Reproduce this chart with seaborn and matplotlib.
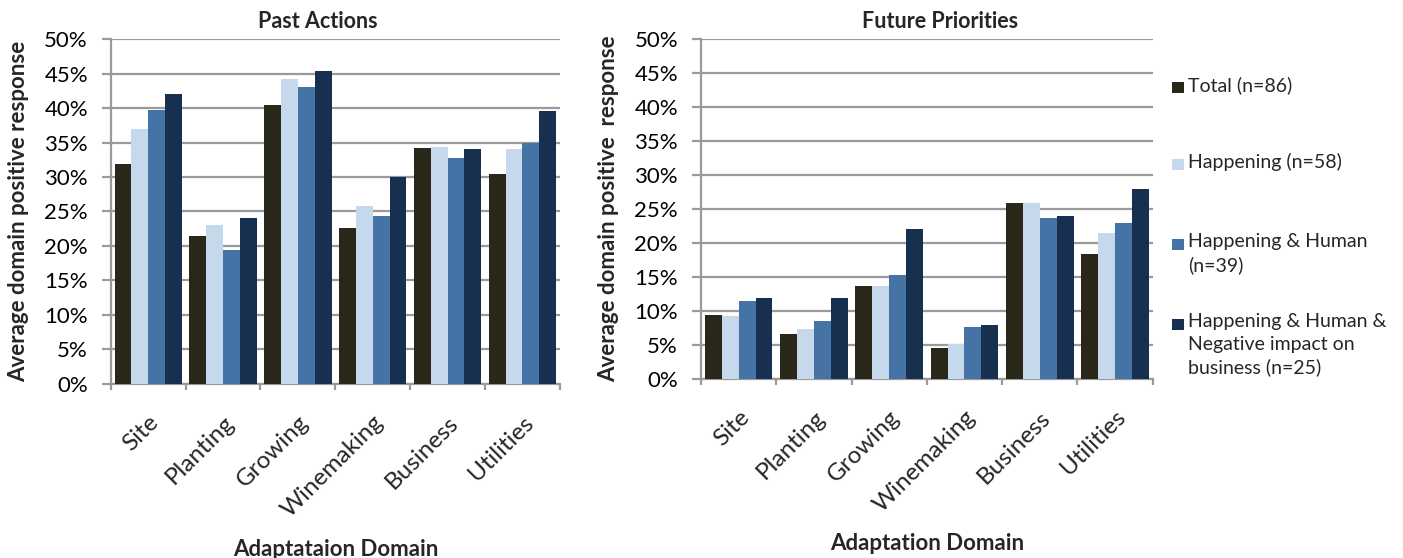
import matplotlib
matplotlib.use("Agg")
import matplotlib.pyplot as plt
from matplotlib.patches import Rectangle
from matplotlib.ticker import PercentFormatter, FixedLocator
from matplotlib.transforms import ScaledTranslation
import seaborn as sns
import pandas as pd

domains = ["Site", "Planting", "Growing", "Winemaking", "Business", "Utilities"]
groups = ["Total (n=86)", "Happening (n=58)", "Happening & Human (n=39)",
          "Happening & Human & Negative impact on business (n=25)"]
legend_labels = ["Total (n=86)", "Happening (n=58)", "Happening & Human\n(n=39)",
                 "Happening & Human &\nNegative impact on\nbusiness (n=25)"]
colors = ["#29261a", "#c6d8ec", "#4573a5", "#17304f"]

# share of positive responses per domain (%), one list per respondent group
past_total = [31.9, 21.5, 40.5, 22.6, 34.2, 30.4]
past_happening = [37.0, 23.0, 44.2, 25.8, 34.4, 34.0]
past_human = [39.7, 19.4, 43.0, 24.3, 32.8, 34.9]
past_negative = [42.0, 24.0, 45.4, 30.0, 34.1, 39.6]

future_total = [9.4, 6.6, 13.6, 4.6, 25.9, 18.4]
future_happening = [9.3, 7.4, 13.7, 5.2, 25.9, 21.5]
future_human = [11.4, 8.5, 15.3, 7.6, 23.7, 23.0]
future_negative = [11.9, 11.9, 22.0, 7.9, 24.0, 27.9]

y_ticks = [0, 5, 10, 15, 20, 25, 30, 35, 40, 45, 50]


def to_long(series):
    rows = []
    for g, vals in zip(groups, series):
        for d, v in zip(domains, vals):
            rows.append({"domain": d, "group": g, "value": v})
    return pd.DataFrame(rows)


past = to_long([past_total, past_happening, past_human, past_negative])
future = to_long([future_total, future_happening, future_human, future_negative])

sns.set_style("white")
plt.rcParams["font.family"] = ["Lato", "DejaVu Sans"]

fig = plt.figure(figsize=(14.03, 5.58), dpi=100)
ax1 = fig.add_axes([0.079, 0.312, 0.320, 0.618])
ax2 = fig.add_axes([0.4996, 0.321, 0.322, 0.609])

grid_c = "#9a9a9a"


def draw(ax, df, title, title_x, xlabel, ylabel, xlabel_y, ylabel_x):
    sns.barplot(data=df, x="domain", y="value", hue="group", order=domains,
                hue_order=groups, palette=colors, width=0.9, gap=0,
                saturation=1, legend=False, ax=ax, zorder=3, linewidth=0)
    ax.set_ylim(0, 50)
    ax.set_xlim(-0.5, len(domains) - 0.5)
    ax.yaxis.set_major_locator(FixedLocator(y_ticks))
    ax.yaxis.set_major_formatter(PercentFormatter(decimals=0))
    ax.grid(axis="y", color=grid_c, linewidth=1.6, zorder=0)
    ax.set_axisbelow(True)
    for side in ["top", "right"]:
        ax.spines[side].set_visible(False)
    for side in ["left", "bottom"]:
        ax.spines[side].set_color(grid_c)
        ax.spines[side].set_linewidth(1.6)
    ax.tick_params(axis="y", which="major", left=True, length=6.5, width=1.6,
                   color=grid_c, labelsize=16, pad=10, labelcolor="black")
    ax.set_xticks(range(len(domains)))
    ax.set_xticklabels(domains, rotation=45, ha="right", va="top",
                       rotation_mode="anchor", fontsize=17.5)
    shift = ScaledTranslation(-0.13, 0, fig.dpi_scale_trans)
    for lab in ax.get_xticklabels():
        lab.set_transform(lab.get_transform() + shift)
    ax.tick_params(axis="x", which="major", length=0, pad=20)
    ax.set_xticks([i - 0.5 for i in range(len(domains) + 1)], minor=True)
    ax.tick_params(axis="x", which="minor", bottom=True, length=4.5, width=1.6,
                   color=grid_c)
    ax.set_title(title, fontsize=15.5, fontweight="bold", x=title_x, pad=8)
    ax.set_xlabel(xlabel, fontsize=16, fontweight="bold", va="top")
    ax.xaxis.set_label_coords(0.5, xlabel_y)
    ax.set_ylabel(ylabel, fontsize=16, fontweight="bold")
    ax.yaxis.set_label_coords(ylabel_x, 0.5)


draw(ax1, past, "Past Actions", 0.461, "Adaptataion Domain",
     "Average domain positive response", -0.449, -0.183)
draw(ax2, future, "Future Priorities", 0.529, "Adaptation Domain",
     "Average domain positive  response", -0.453, -0.181)

# legend beside the right-hand panel, swatch aligned with each label's first line
legend_y = [87, 164, 244, 324]
W, H = 1403.0, 558.0
for c, lab, yy in zip(colors, legend_labels, legend_y):
    fig.add_artist(Rectangle((1172 / W, 1 - (yy + 6) / H), 12 / W, 11 / H,
                             facecolor=c, edgecolor="none",
                             transform=fig.transFigure))
    fig.text(1188 / W, 1 - (yy - 11) / H, lab, fontsize=14, va="top",
             ha="left", linespacing=1.4)

fig.savefig("out.png", dpi=100)
